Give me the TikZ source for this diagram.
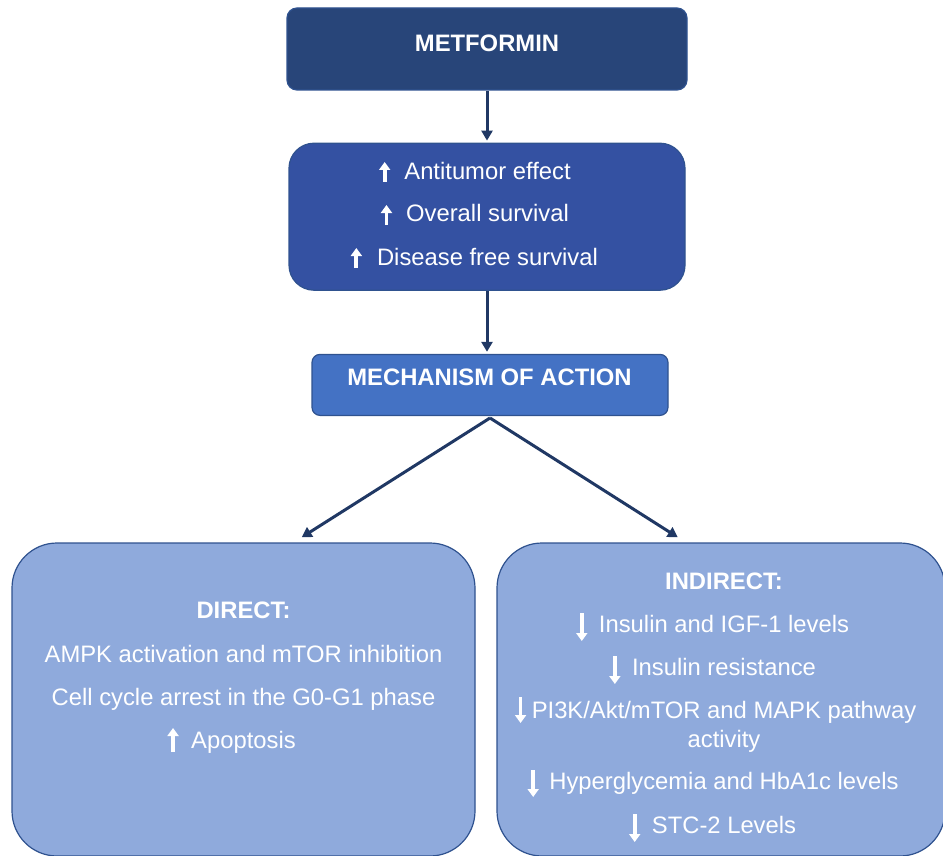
\documentclass[tikz,border=0pt]{standalone}
\usepackage{fontspec}
\setmainfont{Liberation Sans}
\usetikzlibrary{arrows.meta,positioning}
\definecolor{navy}{HTML}{284579}
\definecolor{royal}{HTML}{3451A2}
\definecolor{accent}{HTML}{4472C4}
\definecolor{pale}{HTML}{8FAADC}
\definecolor{rim}{HTML}{2F528F}
\definecolor{link}{HTML}{203864}

\begin{document}
\begin{tikzpicture}[x=1pt, y=1pt,
        box/.style={rectangle, draw=rim, line width=1.2pt, inner sep=0pt},
        txt/.style={text=white, inner sep=0pt, anchor=base, font=\fontsize{23.8}{29}\selectfont},
        head/.style={txt, font=\fontsize{23.8}{29}\selectfont\bfseries},
        flow/.style={draw=link, line width=3pt, shorten >=2pt, -{Triangle[length=10pt,width=11pt]}},
        pointer/.style={white, line width=3.8pt, -{Triangle[length=8pt,width=11pt]}}
      ]
      \useasboundingbox (0,0) rectangle (943,-856);

      \node [box, fill=navy, rounded corners=10pt, minimum width=400pt, minimum height=82pt] (metformin) at (487,-49) {};
      \node [box, fill=royal, rounded corners=25pt, minimum width=396pt, minimum height=147pt, below=52pt of metformin] (effects) {};
      \node [box, fill=accent, rounded corners=8pt, minimum width=356pt, minimum height=61pt, below=63pt of effects, xshift=3pt] (mechanism) {};
      \node [box, fill=pale, rounded corners=45pt, minimum width=463pt, minimum height=313pt] (direct) at (243.5,-699.5) {};
      \node [box, fill=pale, rounded corners=45pt, minimum width=448pt, minimum height=313pt] (indirect) at (721,-699.5) {};

      \node [head] (title) at (487,-52) {METFORMIN};
      \node [txt] (eff1) at (487.5,-179) {Antitumor effect};
      \node [txt] (eff2) at (487.5,-222) {Overall survival};
      \node [txt] (eff3) at (487.5,-265) {Disease free survival};
      \node [head] (moa) at (489.5,-385) {MECHANISM OF ACTION};

      \node [head] (dir0) at (243.5,-618) {DIRECT:};
      \node [txt] (dir1) at (243.5,-662) {AMPK activation and mTOR inhibition};
      \node [txt] (dir2) at (243.5,-705) {Cell cycle arrest in the G0-G1 phase};
      \node [txt] (dir3) at (243.5,-748) {Apoptosis};

      \node [head] (ind0) at (724,-589) {INDIRECT:};
      \node [txt] (ind1) at (724,-632) {Insulin and IGF-1 levels};
      \node [txt] (ind2) at (724,-675) {Insulin resistance};
      \node [txt] (ind3) at (724,-718) {PI3K/Akt/mTOR and MAPK pathway};
      \node [txt] (ind3b) at (724,-747) {activity};
      \node [txt] (ind4) at (724,-789) {Hyperglycemia and HbA1c levels};
      \node [txt] (ind5) at (724,-833) {STC-2 Levels};

      \draw [flow] (metformin) -- (metformin |- effects.north);
      \draw [flow] (effects) -- (effects |- mechanism.north);
      \draw [flow] ([yshift=-2pt]mechanism.south) -- ([shift={(56.5,4)}]direct.north);
      \draw [flow] ([yshift=-2pt]mechanism.south) -- ([shift={(-41.5,4)}]indirect.north);

      \draw [pointer] ([shift={(-19.5,-3)}]eff1.base west) -- ++(0,20);
      \draw [pointer] ([shift={(-19.5,-3)}]eff2.base west) -- ++(0,20);
      \draw [pointer] ([shift={(-20.5,-3)}]eff3.base west) -- ++(0,20);
      \draw [pointer] ([shift={(-18,-4)}]dir3.base west) -- ++(0,24);

      \draw [pointer] ([shift={(-17,19)}]ind1.base west) -- ++(0,-28);
      \draw [pointer] ([shift={(-17,19)}]ind2.base west) -- ++(0,-28);
      \draw [pointer] ([shift={(-11,21)}]ind3.base west) -- ++(0,-26);
      \draw [pointer] ([shift={(-16,19)}]ind4.base west) -- ++(0,-27);
      \draw [pointer] ([shift={(-17,19)}]ind5.base west) -- ++(0,-28);
\end{tikzpicture}
\end{document}
